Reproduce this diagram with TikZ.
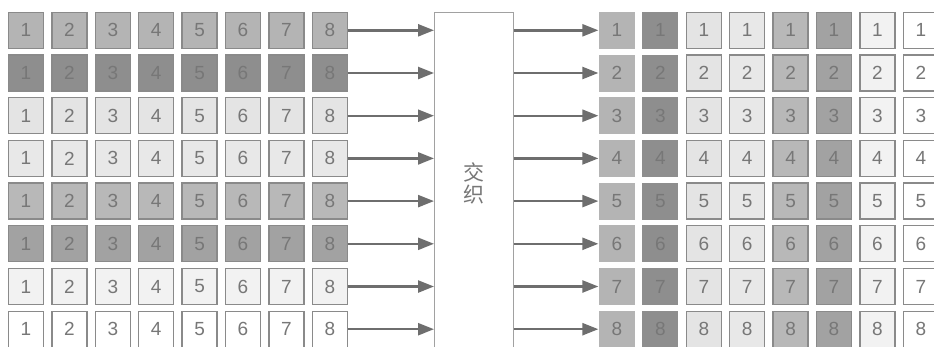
\documentclass[tikz,border=0pt]{standalone}
\usepackage{fontspec}
\setmainfont{Liberation Sans}
\newfontfamily\cjk{Noto Sans CJK SC}
\usetikzlibrary{arrows.meta}
\definecolor{cA}{HTML}{B4B4B4}
\definecolor{cB}{HTML}{8E8E8E}
\definecolor{cC}{HTML}{E4E4E4}
\definecolor{cD}{HTML}{E8E8E8}
\definecolor{cE}{HTML}{B8B8B8}
\definecolor{cF}{HTML}{A2A2A2}
\definecolor{cG}{HTML}{F2F2F2}
\definecolor{cH}{HTML}{FFFFFF}
\definecolor{bordergray}{HTML}{8A8A8A}
\definecolor{digitgray}{HTML}{777777}
\definecolor{arrowgray}{HTML}{6E6E6E}
\tikzset{
  cell/.style={draw=bordergray, line width=1.3pt, minimum width=35pt, minimum height=36pt,
    inner sep=0pt, text=digitgray, font=\fontsize{19}{19}\selectfont},
  flat/.style={draw=none, minimum width=36pt, minimum height=37pt},
  conn/.style={draw=arrowgray, line width=2.4pt, -{Triangle[length=16pt,width=12pt]}},
  midbox/.style={draw=bordergray!80, line width=0.9pt, fill=white}
}
\begin{document}
\begin{tikzpicture}[x=1pt,y=-1pt]
\useasboundingbox (0,0) rectangle (934,346);
\clip (0,0) rectangle (934,346);
\fill[white] (0,0) rectangle (934,346);
% middle box
\node[midbox, minimum width=79pt, minimum height=345pt, anchor=north west, inner sep=0pt] (M) at (434,12) {};
\node[text=digitgray, font=\cjk\fontsize{21}{22}\selectfont, align=center] (T) at (473.5,183) {交\\织};
% left grid
\foreach \r/\col in {1/cA,2/cB,3/cC,4/cD,5/cE,6/cF,7/cG,8/cH}{
  \foreach \c in {1,...,8}{
    \node[cell, fill=\col] (L-\r-\c) at ({26+43.4*(\c-1)},{30.3+42.7*(\r-1)}) {\c};
  }
  \draw[conn] (L-\r-8.east) -- (L-\r-8.east -| M.west);
}
% right grid
\foreach \c/\col in {1/cA,2/cB,3/cC,4/cD,5/cE,6/cF,7/cG,8/cH}{
  \foreach \r in {1,...,8}{
    \ifnum\c<3
      \node[cell, flat, fill=\col] (R-\r-\c) at ({617+43.4*(\c-1)},{30.3+42.7*(\r-1)}) {\r};
    \else
      \node[cell, fill=\col] (R-\r-\c) at ({617+43.4*(\c-1)},{30.3+42.7*(\r-1)}) {\r};
    \fi
  }
}
\foreach \r in {1,...,8}{
  \draw[conn] (R-\r-1.west -| M.east) -- (R-\r-1.west);
}
\end{tikzpicture}
\end{document}
